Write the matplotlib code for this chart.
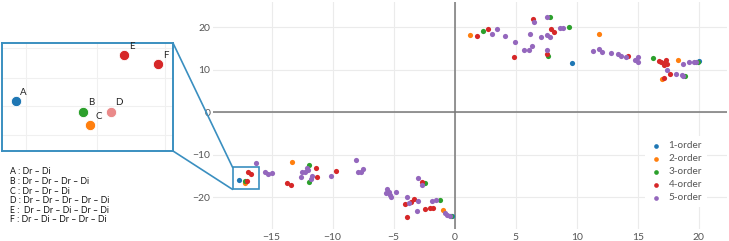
import matplotlib.pyplot as plt
from matplotlib.patches import Rectangle, ConnectionPatch

plt.rcParams['font.family'] = ['Lato', 'DejaVu Sans']

# series data (x, y)
order1_x = [9.6, 20.0, -0.2, -17.7]
order1_y = [11.6, 12.1, -24.3, -15.8]

order2_x = [1.25, 11.8, 18.3, 17.0, -13.3, -1.0, -17.15]
order2_y = [18.1, 18.4, 12.2, 7.8, -11.6, -23.0, -16.7]

order3_x = [2.3, 7.8, 9.34, 7.6, 16.2, 19.9, 18.85, -11.9, -11.9, -2.46, -1.2, -0.3, -17.2]
order3_y = [19.2, 22.4, 20.0, 13.2, 12.7, 11.9, 8.6, -12.3, -16.3, -16.5, -20.5, -24.3, -16.2]

order4_x = [1.8, 2.75, 4.84, 6.4, 7.9, 8.1, 7.57, 14.2, 16.75, 16.9, 17.3, 17.35, 17.1,
            17.15, 17.6, 17.1, -11.4, -11.3, -13.7, -13.4, -9.7, -2.65, -3.3, -3.6,
            -4.1, -2.4, -2.05, -1.8, -3.9, -16.9, -16.65, -17.0]
order4_y = [17.9, 19.5, 12.9, 22.0, 19.5, 18.8, 13.8, 13.2, 12.0, 11.8, 12.2, 11.3, 11.0,
            11.5, 9.1, 8.0, -13.1, -15.3, -16.5, -17.1, -13.7, -16.3, -20.4, -21.0,
            -21.6, -22.6, -22.5, -22.4, -24.6, -14.1, -14.45, -16.2]

order5_x = [3.06, 3.44, 4.15, 4.97, 5.7, 6.07, 6.3, 6.15, 6.5, 7.54, 7.05, 7.54, 7.8, 7.57,
            8.6, 8.9, 11.3, 11.8, 12.1, 12.8, 13.4, 13.6, 14.0, 15.0, 14.75, 15.0, 17.4,
            18.7, 19.2, 19.6, 19.8, 18.1, 18.6, 18.7,
            -16.25, -15.5, -15.3, -15.0, -12.1, -12.5, -12.3, -12.0, -11.7, -11.8, -12.6,
            -10.1, -8.1, -7.9, -7.7, -7.5, -3.0, -2.7, -5.55, -5.66, -5.4, -5.2, -5.3,
            -4.8, -3.9, -3.0, -3.75, -1.9, -1.5, -3.1, -0.8, -0.6, -0.4]
order5_y = [18.5, 19.6, 18.0, 16.6, 14.6, 14.6, 15.5, 18.5, 21.3, 22.3, 17.7, 18.2, 17.6, 14.7,
            19.7, 19.8, 14.5, 14.75, 14.2, 13.9, 13.6, 13.3, 12.9, 13.0, 12.2, 11.8, 9.9,
            11.4, 11.7, 11.8, 11.9, 8.9, 8.7, 8.6,
            -11.9, -14.0, -14.4, -14.2, -13.0, -14.0, -14.1, -13.6, -15.0, -15.6, -15.1,
            -14.9, -11.3, -14.0, -13.9, -13.2, -15.5, -17.1, -18.1, -19.0, -18.8, -19.8, -19.3,
            -18.8, -20.0, -20.9, -21.4, -20.8, -20.5, -23.1, -23.7, -24.0, -24.3]

series_names = ['1-order', '2-order', '3-order', '4-order', '5-order']
series_x = [order1_x, order2_x, order3_x, order4_x, order5_x]
series_y = [order1_y, order2_y, order3_y, order4_y, order5_y]
colors = ['#1f77b4', '#ff7f0e', '#2ca02c', '#d62728', '#9467bd']

# zoomed points
inset_labels = ['A', 'B', 'C', 'D', 'E', 'F']
inset_x = [-17.7, -17.2, -17.15, -17.0, -16.9, -16.65]
inset_y = [-15.8, -16.2, -16.7, -16.2, -14.1, -14.45]
inset_colors = ['#1f77b4', '#2ca02c', '#ff7f0e', '#ea8a8a', '#d62728', '#d62728']
paths = ['A : Dr \u2013 Di',
         'B : Dr \u2013 Dr \u2013 Dr \u2013 Di',
         'C : Dr \u2013 Dr \u2013 Di',
         'D : Dr \u2013 Dr \u2013 Dr \u2013 Dr \u2013 Di',
         'E :  Dr \u2013 Dr \u2013 Di \u2013 Dr \u2013 Di',
         'F : Dr \u2013 Di \u2013 Dr \u2013 Dr \u2013 Di']

W, H = 729, 241
fig = plt.figure(figsize=(W / 100, H / 100), dpi=100)

# main axes (pixel box: left 213, right 727, top 2, bottom 229)
ax = fig.add_axes([213 / W, 1 - 229 / H, (727 - 213) / W, (229 - 2) / H])
for i in range(5):
    ax.scatter(series_x[i], series_y[i], s=14, color=colors[i], linewidths=0,
               label=series_names[i], zorder=3)
ax.set_xlim(-19.8, 22.3)
ax.set_ylim(-27.4, 25.9)
ax.set_xticks([-15, -10, -5, 0, 5, 10, 15, 20])
ax.set_yticks([-20, -10, 0, 10, 20])
ax.grid(True, color='#ebebeb', linewidth=0.8)
ax.set_axisbelow(True)
ax.axhline(0, color='#777777', linewidth=1.1, zorder=1)
ax.axvline(0, color='#777777', linewidth=1.1, zorder=1)
for sp in ax.spines.values():
    sp.set_visible(False)
ax.tick_params(length=0, labelsize=7.5, labelcolor='#555555', pad=3)
ax.tick_params(axis='y', pad=2)

leg = ax.legend(loc='upper left', bbox_to_anchor=(0.83, 0.43), frameon=True,
                fontsize=7.2, handletextpad=0.7, labelspacing=0.4, borderpad=0.5,
                markerscale=0.9, handlelength=1.2)
leg.get_frame().set_facecolor('white')
leg.get_frame().set_edgecolor('none')
leg.get_frame().set_alpha(1)
for t in leg.get_texts():
    t.set_color('#555555')

box_color = '#3a8fc0'
bx0, bx1, by0, by1 = -18.2, -16.0, -18.1, -12.9
ax.add_patch(Rectangle((bx0, by0), bx1 - bx0, by1 - by0, fill=False,
                       edgecolor=box_color, linewidth=1.2, zorder=4, clip_on=False))

# inset axes (pixel box: left 2, right 173, top 43, bottom 151)
ins = fig.add_axes([2 / W, 1 - 151 / H, 171 / W, 108 / H])
ins.set_xlim(-17.8, -16.54)
ins.set_ylim(-17.66, -13.66)
ins.set_xticks([-17.62, -17.1, -16.6])
ins.set_yticks([-13.85, -14.95, -16.0, -17.05])
ins.grid(True, color='#f0f0f0', linewidth=0.8)
ins.set_axisbelow(True)
ins.tick_params(length=0, labelbottom=False, labelleft=False)
for sp in ins.spines.values():
    sp.set_color(box_color)
    sp.set_linewidth(1.4)
for lab, x, y, c in zip(inset_labels, inset_x, inset_y, inset_colors):
    ins.scatter([x], [y], s=55, color=c, linewidths=0.6, edgecolors='white', zorder=3)
    ins.annotate(lab, (x, y), xytext=(3.5, 3), textcoords='offset points',
                 fontsize=7, ha='left', va='bottom', color='#222222')

for ya, yb in [(1, by1), (0, by0)]:
    con = ConnectionPatch(xyA=(1, ya), coordsA=ins.transAxes, xyB=(bx0, yb),
                          coordsB=ax.transData, color=box_color, linewidth=1.2)
    fig.add_artist(con)

for i, p in enumerate(paths):
    fig.text(10 / W, 1 - (172 + 9.6 * i) / H, p, fontsize=6.3, color='#111111',
             ha='left', va='center')

fig.savefig('out.png', dpi=100)
